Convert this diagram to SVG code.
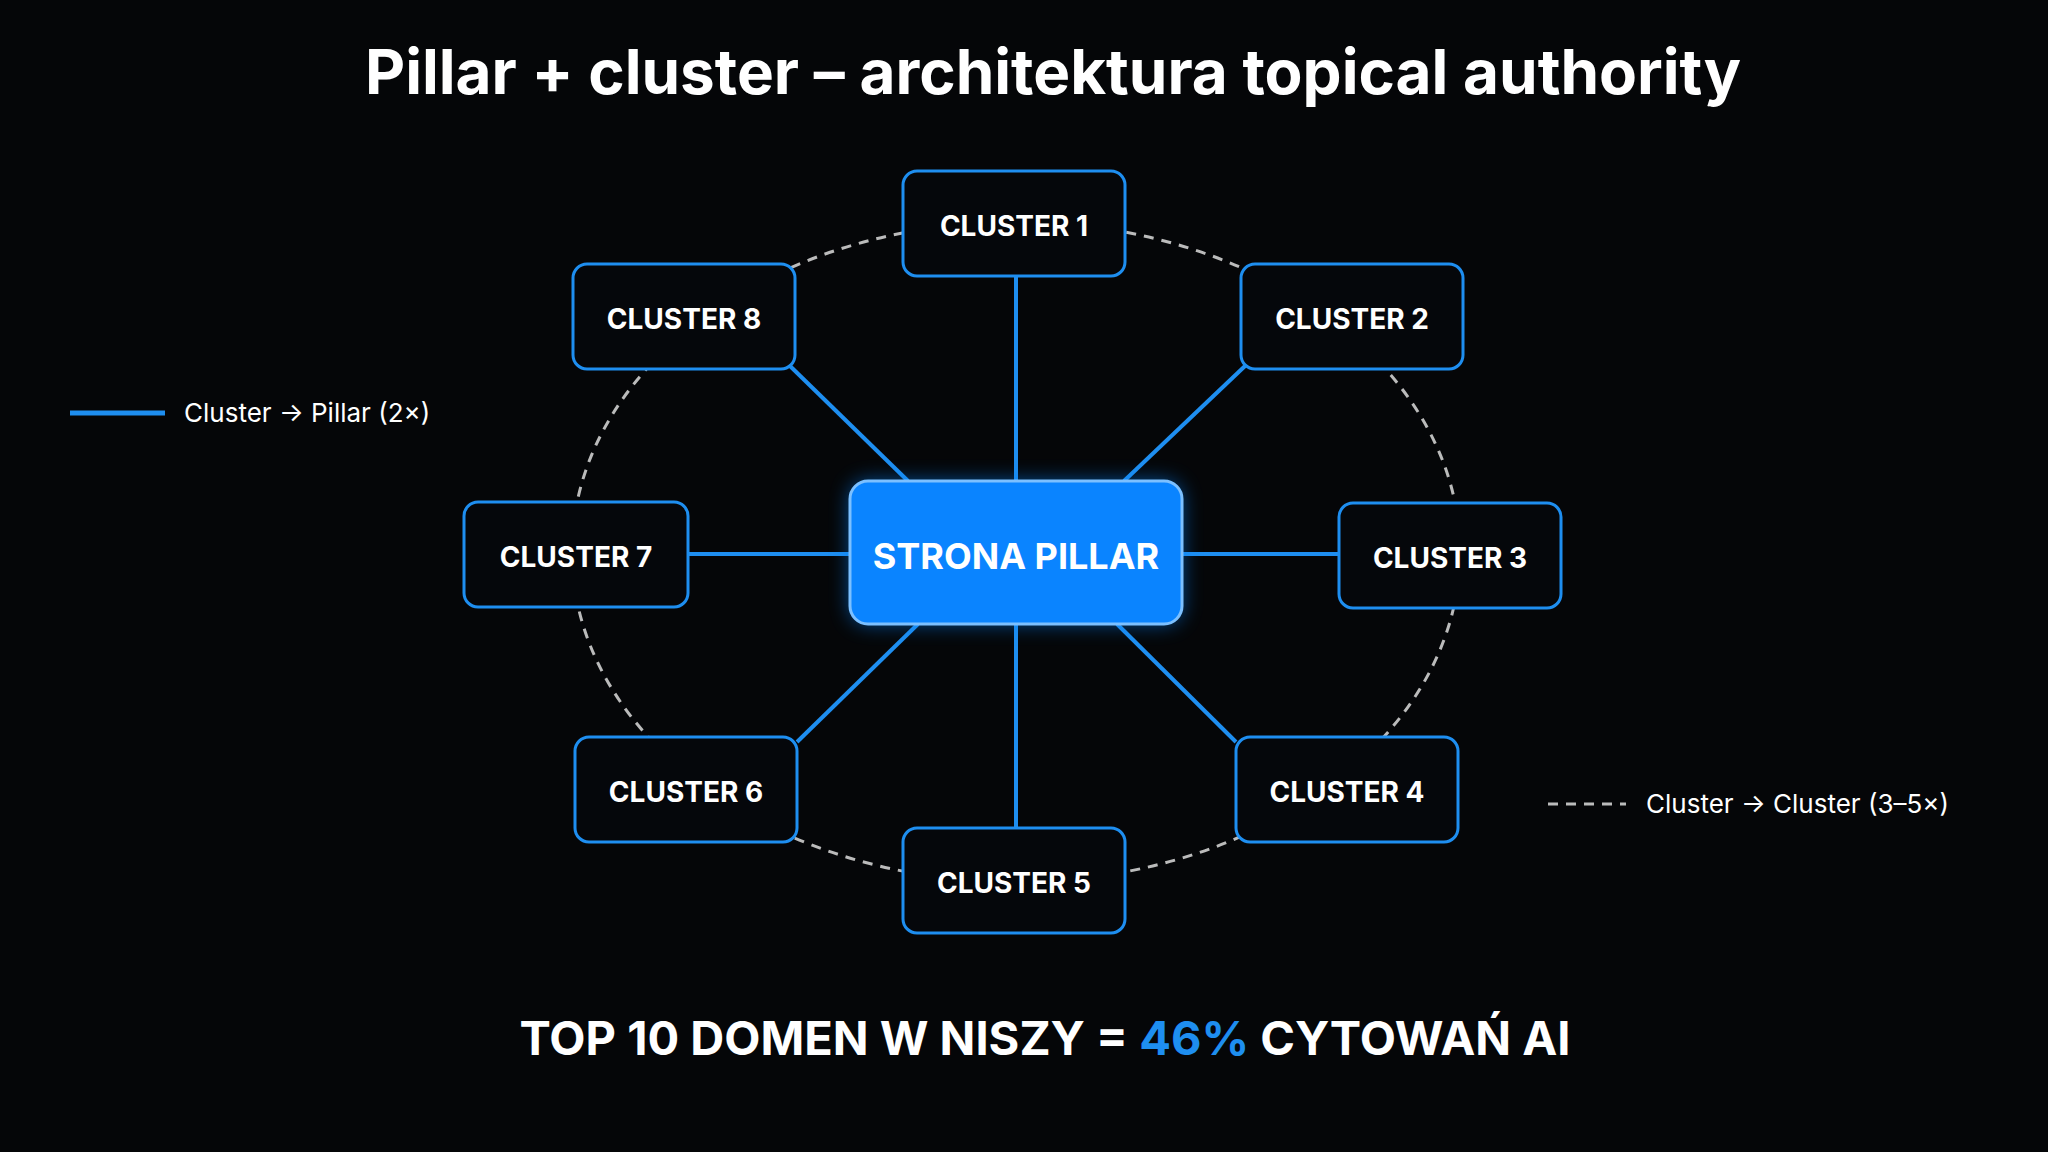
<svg xmlns="http://www.w3.org/2000/svg" width="2048" height="1152" viewBox="0 0 2048 1152">
<style>
.n rect{fill:#05070b;stroke:#1e8ef0;stroke-width:3}
.n text{fill:#fff;font-family:Inter,"Liberation Sans",sans-serif;font-weight:700;font-size:28px;text-anchor:middle;dominant-baseline:central}
.sp{stroke:#1e8ef0;stroke-width:4}
.lg{fill:#fff;font-family:Inter,"Liberation Sans",sans-serif;font-size:26px}
</style>
<defs>
<filter id="glow" x="-30%" y="-50%" width="160%" height="200%"><feGaussianBlur stdDeviation="10"/></filter>
</defs>
<rect width="2048" height="1152" fill="#050608"/>
<text x="1053" y="94" fill="#fff" font-family="Inter,'Liberation Sans',sans-serif" font-weight="700" font-size="62" text-anchor="middle">Pillar + cluster – architektura topical authority</text>
<g id="connectors">
<ellipse cx="1016" cy="552" rx="444" ry="330" fill="none" stroke="#bbb" stroke-width="3" stroke-dasharray="10 8"/>
<line class="sp" x1="1016" y1="552" x2="1016" y2="223"/>
<line class="sp" x1="908" y1="481" x2="790" y2="366"/>
<line class="sp" x1="1124" y1="481" x2="1245" y2="366"/>
<line class="sp" x1="1016" y1="554" x2="576" y2="554"/>
<line class="sp" x1="1016" y1="554" x2="1450" y2="554"/>
<line class="sp" x1="918" y1="624" x2="797" y2="742"/>
<line class="sp" x1="1117" y1="624" x2="1236" y2="742"/>
<line class="sp" x1="1016" y1="552" x2="1016" y2="880"/>
</g>
<g id="legend">
<line x1="70" y1="413" x2="165" y2="413" stroke="#1e8ef0" stroke-width="5"/>
<text class="lg" x="184" y="422">Cluster → Pillar (2×)</text>
<line x1="1548" y1="804" x2="1626" y2="804" stroke="#bbb" stroke-width="3" stroke-dasharray="10 8"/>
<text class="lg" x="1646" y="813">Cluster → Cluster (3–5×)</text>
</g>
<g id="pillar">
<rect x="850" y="481" width="332" height="143" rx="18" fill="#0a84ff" opacity="0.6" filter="url(#glow)"/>
<rect x="850" y="481" width="332" height="143" rx="18" fill="#0a84ff" stroke="#7cc0ff" stroke-width="3"/>
<text x="1016" y="556" fill="#fff" font-family="Inter,'Liberation Sans',sans-serif" font-weight="700" font-size="36" text-anchor="middle" dominant-baseline="central">STRONA PILLAR</text>
</g>
<g id="c1" class="n"><rect x="903" y="171" width="222" height="105" rx="14"/><text x="1014" y="226">CLUSTER 1</text></g>
<g id="c2" class="n"><rect x="1241" y="264" width="222" height="105" rx="14"/><text x="1352" y="319">CLUSTER 2</text></g>
<g id="c3" class="n"><rect x="1339" y="503" width="222" height="105" rx="14"/><text x="1450" y="558">CLUSTER 3</text></g>
<g id="c4" class="n"><rect x="1236" y="737" width="222" height="105" rx="14"/><text x="1347" y="792">CLUSTER 4</text></g>
<g id="c5" class="n"><rect x="903" y="828" width="222" height="105" rx="14"/><text x="1014" y="883">CLUSTER 5</text></g>
<g id="c6" class="n"><rect x="575" y="737" width="222" height="105" rx="14"/><text x="686" y="792">CLUSTER 6</text></g>
<g id="c7" class="n"><rect x="464" y="502" width="224" height="105" rx="14"/><text x="576" y="557">CLUSTER 7</text></g>
<g id="c8" class="n"><rect x="573" y="264" width="222" height="105" rx="14"/><text x="684" y="319">CLUSTER 8</text></g>
<text x="1045" y="1055" fill="#fff" font-family="Inter,'Liberation Sans',sans-serif" font-weight="700" font-size="47" text-anchor="middle">TOP 10 DOMEN W NISZY = <tspan fill="#1e8ef0">46%</tspan> CYTOWAŃ AI</text>
</svg>
